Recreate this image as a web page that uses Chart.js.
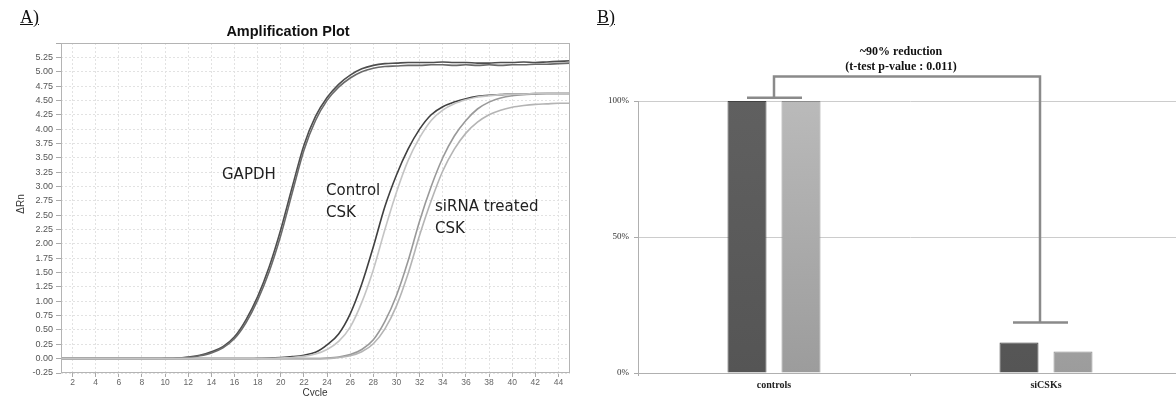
<!DOCTYPE html>
<html><head><meta charset="utf-8">
<script src="https://cdn.jsdelivr.net/npm/chart.js@4.4.0/dist/chart.umd.min.js"></script>
<style>
html,body{margin:0;padding:0;background:#fff;overflow:hidden;width:1176px;height:396px;}
#a{position:absolute;left:0;top:0;z-index:1;}
#b{position:absolute;left:590px;top:0;z-index:1;}
.lbl{position:absolute;z-index:5;font-family:"Liberation Serif",serif;font-size:18px;text-decoration:underline;color:#111;line-height:18px;}
</style></head><body>
<canvas id="a" width="590" height="396"></canvas>
<canvas id="b" width="592" height="396"></canvas>
<div class="lbl" style="left:20px;top:8px">A)</div>
<div class="lbl" style="left:597px;top:8px">B)</div>
<script>
// ---------- Panel A data ----------
const cycles = [1,2,3,4,5,6,7,8,9,10,11,12,13,14,15,16,17,18,19,20,21,22,23,24,25,26,27,28,29,30,31,32,33,34,35,36,37,38,39,40,41,42,43,44,45];
const gapdh1 = [0,0,0,0,0,0,0,0,0,0.005,0.01,0.03,0.06,0.12,0.21,0.38,0.68,1.08,1.6,2.25,3.0,3.72,4.22,4.55,4.78,4.94,5.05,5.11,5.14,5.15,5.16,5.16,5.16,5.17,5.16,5.16,5.15,5.15,5.16,5.16,5.17,5.16,5.17,5.18,5.19];
const gapdh2 = [0,0,0,0,0,0,0,0,0,0.003,0.008,0.02,0.05,0.1,0.19,0.35,0.63,1.02,1.52,2.15,2.9,3.63,4.15,4.5,4.73,4.89,5.0,5.06,5.09,5.1,5.11,5.11,5.12,5.12,5.11,5.12,5.11,5.12,5.11,5.12,5.12,5.13,5.13,5.14,5.15];
const ctrlCsk1 = [0,0,0,0,0,0,0,0,0,0,0,0,0,0,0,0,0,0.005,0.01,0.02,0.035,0.06,0.11,0.24,0.43,0.78,1.3,1.95,2.65,3.2,3.65,4.0,4.25,4.39,4.47,4.53,4.57,4.59,4.6,4.61,4.61,4.62,4.62,4.62,4.62];
const ctrlCsk2 = [0,0,0,0,0,0,0,0,0,0,0,0,0,0,0,0,0,0,0,0.01,0.02,0.04,0.08,0.16,0.3,0.55,0.98,1.55,2.25,2.9,3.45,3.85,4.15,4.33,4.44,4.51,4.56,4.58,4.6,4.61,4.61,4.62,4.62,4.62,4.62];
const siCsk1 = [0,0,0,0,0,0,0,0,0,0,0,0,0,0,0,0,0,0,0,0,0,0,0,0.01,0.03,0.07,0.16,0.33,0.65,1.1,1.7,2.4,3.0,3.5,3.88,4.15,4.35,4.47,4.54,4.58,4.6,4.61,4.62,4.62,4.62];
const siCsk2 = [0,0,0,0,0,0,0,0,0,0,0,0,0,0,0,0,0,0,0,0,0,0,0,0,0.02,0.05,0.12,0.26,0.52,0.92,1.48,2.15,2.75,3.27,3.65,3.93,4.12,4.25,4.33,4.38,4.41,4.43,4.44,4.45,4.45];
const xTicksA = [2,4,6,8,10,12,14,16,18,20,22,24,26,28,30,32,34,36,38,40,42,44];
const yTicksA = [-0.25,0,0.25,0.5,0.75,1,1.25,1.5,1.75,2,2.25,2.5,2.75,3,3.25,3.5,3.75,4,4.25,4.5,4.75,5,5.25,5.5];

// ---------- Panel B data ----------
const groupsB = ['controls','siCSKs'];
const barDark = [100, 11.2];
const barLight = [100, 7.9];
const yTicksB = [0,50,100];
const capControls = 101.2;
const capSi = 18.6;
const bracketTop = 109;

const seriesA = [
  {d: ctrlCsk2, c:'#c4c4c4'},
  {d: siCsk2, c:'#b4b4b4'},
  {d: siCsk1, c:'#999999'},
  {d: gapdh2, c:'#6a6a6a'},
  {d: gapdh1, c:'#4e4e4e'},
  {d: ctrlCsk1, c:'#404040'}
];

const annoA = {
  id:'annoA',
  beforeDraw(chart){
    const {ctx} = chart;
    ctx.save(); ctx.fillStyle='#fff'; ctx.fillRect(0,0,chart.width,chart.height); ctx.restore();
  },
  afterDraw(chart){
    const {ctx, chartArea:a} = chart;
    ctx.save();
    ctx.strokeStyle='#b4b4b4'; ctx.lineWidth=1;
    ctx.strokeRect(a.left+0.5, a.top+0.5, a.right-a.left-1, a.bottom-a.top-1);
    ctx.fillStyle='#111';
    ctx.textAlign='center'; ctx.textBaseline='middle';
    ctx.font='bold 14.5px "Liberation Sans", Arial, sans-serif';
    ctx.fillText('Amplification Plot', 288, 32);
    ctx.font='10px "Liberation Sans", Arial, sans-serif';
    ctx.fillStyle='#333';
    ctx.fillText('Cycle', 315, 393);
    ctx.save(); ctx.translate(21, 204); ctx.rotate(-Math.PI/2); ctx.fillText('\u0394Rn', 0, 0); ctx.restore();
    ctx.fillStyle='#222';
    ctx.textAlign='left';
    ctx.font='15px "DejaVu Sans", sans-serif';
    ctx.fillText('GAPDH', 222, 175);
    ctx.fillText('Control', 326, 191);
    ctx.fillText('CSK', 326, 213);
    ctx.fillText('siRNA treated', 435, 207);
    ctx.fillText('CSK', 435, 229);
    ctx.restore();
  }
};

new Chart(document.getElementById('a'), {
  type:'line',
  data:{
    datasets: seriesA.map(s => ({
      data: cycles.map((c,i)=>({x:c, y:s.d[i]})),
      borderColor:s.c, borderWidth:1.6, pointRadius:0, fill:false,
      cubicInterpolationMode:'monotone'
    }))
  },
  options:{
    responsive:false, animation:false, events:[],
    layout:{padding:{top:43, right:20, left:0, bottom:0}},
    plugins:{legend:{display:false}, tooltip:{enabled:false}},
    scales:{
      x:{type:'linear', min:1, max:45,
        afterBuildTicks:s=>{s.ticks = xTicksA.map(v=>({value:v}));},
        afterFit:s=>{s.height=23;},
        ticks:{font:{family:'"Liberation Sans", Arial, sans-serif', size:8.5}, color:'#666', padding:1, autoSkip:false, maxRotation:0, callback:v=>String(v)},
        grid:{color:'#e2e2e2', tickLength:4, tickColor:'#aaa'},
        border:{display:false, dash:[2,2]}
      },
      y:{min:-0.25, max:5.5,
        afterBuildTicks:s=>{s.ticks = yTicksA.map(v=>({value:v}));},
        afterFit:s=>{s.width=61;},
        ticks:{font:{family:'"Liberation Sans", Arial, sans-serif', size:9}, color:'#555', padding:3, autoSkip:false, callback:v=> v>5.3 ? '' : v.toFixed(2)},
        grid:{color:'#e2e2e2', tickLength:5, tickColor:'#aaa'},
        border:{display:false, dash:[2,2]}
      }
    }
  },
  plugins:[annoA]
});

// ---------- Panel B ----------
function grad(ctx, c1, c2){
  const {chart} = ctx; const a = chart.chartArea;
  if(!a) return c1;
  const g = chart.ctx.createLinearGradient(0, a.top, 0, a.bottom);
  g.addColorStop(0, c1); g.addColorStop(1, c2);
  return g;
}
const bracket = {
  id:'bracket',
  afterDatasetsDraw(chart){
    const {ctx} = chart; const x = chart.scales.x, y = chart.scales.y;
    const x0 = x.getPixelForValue(0), x1 = x.getPixelForValue(1) - 6;
    const yc = y.getPixelForValue(capControls), yt = y.getPixelForValue(bracketTop), ys = y.getPixelForValue(capSi);
    ctx.save();
    ctx.strokeStyle='#8a8a8a'; ctx.lineWidth=2.5; ctx.lineCap='butt';
    ctx.beginPath();
    ctx.moveTo(x0-27, yc); ctx.lineTo(x0+28, yc);
    ctx.moveTo(x0, yc); ctx.lineTo(x0, yt); ctx.lineTo(x1, yt); ctx.lineTo(x1, ys);
    ctx.moveTo(x1-27, ys); ctx.lineTo(x1+28, ys);
    ctx.stroke();
    ctx.fillStyle='#111'; ctx.textAlign='center'; ctx.textBaseline='middle';
    ctx.font='bold 12px "Liberation Serif", "Times New Roman", serif';
    const mx = (x0+x1)/2 - 6;
    ctx.fillText('~90% reduction', mx, yt-25);
    ctx.fillText('(t-test p-value : 0.011)', mx, yt-10);
    ctx.restore();
  }
};

new Chart(document.getElementById('b'), {
  type:'bar',
  data:{
    labels: groupsB,
    datasets:[
      {data: barDark, backgroundColor: c=>grad(c,'#606060','#555555'), borderColor:'#424242', borderWidth:1},
      {data: barLight, backgroundColor: c=>grad(c,'#bababa','#9c9c9c'), borderColor:'#8c8c8c', borderWidth:1}
    ]
  },
  options:{
    responsive:false, animation:false, events:[],
    layout:{padding:{top:101, right:0, left:0, bottom:0}},
    datasets:{bar:{categoryPercentage:0.397, barPercentage:0.722}},
    plugins:{legend:{display:false}, tooltip:{enabled:false}},
    scales:{
      x:{afterFit:s=>{s.height=23;},
        grid:{offset:true, drawOnChartArea:false, tickLength:3, color:'#aaa'},
        border:{color:'#b0b0b0'},
        ticks:{font:{family:'"Liberation Serif", serif', size:10, weight:'bold'}, color:'#222', padding:3}
      },
      y:{min:0, max:100,
        afterBuildTicks:s=>{s.ticks = yTicksB.map(v=>({value:v}));},
        afterFit:s=>{s.width=48;},
        grid:{color:'#cccccc', tickLength:4, tickColor:'#aaa'},
        border:{color:'#b0b0b0'},
        ticks:{font:{family:'"Liberation Serif", serif', size:9}, color:'#333', padding:5, callback:v=>v+'%'}
      }
    }
  },
  plugins:[bracket]
});
</script>
</body></html>
